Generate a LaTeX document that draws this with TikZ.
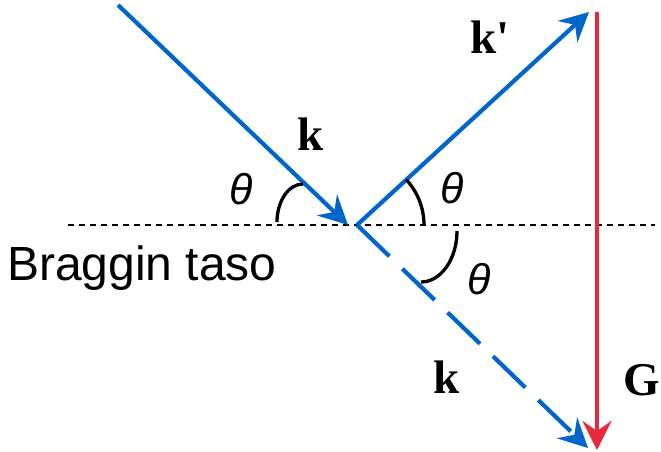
\documentclass[tikz,border=0pt]{standalone}
\usepackage{fontspec}
\setmainfont{Liberation Serif}
\setsansfont{Liberation Sans}
\usetikzlibrary{arrows.meta}
\definecolor{RayBlue}{HTML}{0066CC}
\definecolor{VecRed}{HTML}{E8283C}
\newcommand{\vk}{\textbf{k}}

\begin{document}
\begin{tikzpicture}[
  x=1pt,y=1pt,
  every node/.style={inner sep=0pt},
  vec/.style={font=\fontsize{47}{47}\selectfont\bfseries},
  ang/.style={font=\fontsize{43}{43}\selectfont\sffamily\itshape},
  tip/.style={-{Stealth[length=29pt,width=29pt,inset=10pt]}},
  ray/.style={tip,line width=4.2pt,color=RayBlue},
  arcline/.style={line width=3.3pt,black},
  plane/.style={line width=1.6pt,dash pattern=on 6pt off 5pt}
]
\useasboundingbox (0,0) rectangle (661,451);
% points
\coordinate (src) at (118,446);
\coordinate (hit) at (348,226);
\coordinate (O) at (357,226);
\coordinate (kout) at (589,439);
\coordinate (kend) at (588,3);
\coordinate (Gtop) at (597,439);
\coordinate (Gbot) at (597,1);
\coordinate (pl) at (68,226);
\coordinate (pr) at (655,226);
% plane
\draw[plane] (pl)--(pr);
\node[anchor=base west,font=\fontsize{48}{48}\selectfont\sffamily] (plab) at (7,171) {Braggin taso};
% rays
\draw[ray] (src)--(hit);
\draw[ray] (O)--(kout);
\draw[ray,dash pattern=on 45pt off 18pt] (O)--(kend);
\draw[tip,line width=4.8pt,color=VecRed] (Gtop)--(Gbot);
% angles
\draw[arcline] (277,229) arc[start angle=180,end angle=90,x radius=26,y radius=38];
\draw[arcline] ([shift={(67,0)}]O) arc[start angle=0,end angle=42.6,radius=67];
\draw[arcline] (457,220) arc[start angle=0,end angle=-90,x radius=36,y radius=51];
% labels
\node[vec] (k1) at (310.5,317) {\vk};
\node[vec] (k2) at (490,414) {\textbf{k\textquotesingle}};
\node[vec] (k3) at (447,74) {\vk};
\node[vec] (G) at (642,71) {\textbf{G}};
\node[ang] (t1) at (241,262) {θ};
\node[ang] (t2) at (452,263) {θ};
\node[ang] (t3) at (479,172) {θ};
\end{tikzpicture}
\end{document}
